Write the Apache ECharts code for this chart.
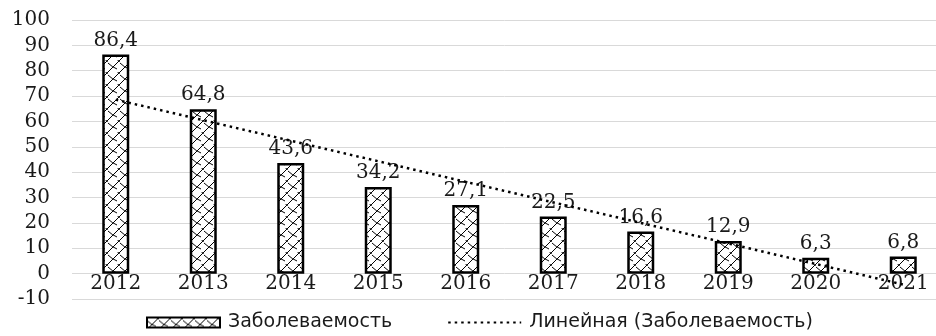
<!DOCTYPE html>
<html>
<head>
<meta charset="utf-8">
<script src="https://cdn.jsdelivr.net/npm/echarts@6/dist/echarts.min.js"></script>
<style>html,body{margin:0;padding:0;background:#fff}#c{width:936px;height:336px}</style>
</head>
<body>
<div id="c"></div>
<script>
const categories = ['2012','2013','2014','2015','2016','2017','2018','2019','2020','2021'];
const incidence = [86.4, 64.8, 43.6, 34.2, 27.1, 22.5, 16.6, 12.9, 6.3, 6.8];
const trendEnds = [68.6, -4.3]; // linear trend line values at first and last year
const yTicks = {min: -10, max: 100, interval: 10};
const seriesNames = ['Заболеваемость', 'Линейная (Заболеваемость)'];

function makePattern() {
  const c = document.createElement('canvas');
  c.width = 12; c.height = 12;
  const g = c.getContext('2d');
  g.fillStyle = '#fff'; g.fillRect(0, 0, 12, 12);
  g.strokeStyle = '#000'; g.lineWidth = 1;
  g.beginPath();
  g.moveTo(0, 12); g.lineTo(12, 0);
  g.moveTo(-6, 6); g.lineTo(6, -6);
  g.moveTo(6, 18); g.lineTo(18, 6);
  g.moveTo(0, 3); g.quadraticCurveTo(4, 7, 9, 9);
  g.moveTo(-6, 9); g.quadraticCurveTo(-2, 13, 3, 15);
  g.moveTo(6, -3); g.quadraticCurveTo(10, 1, 15, 3);
  g.stroke();
  return c;
}
const pattern = makePattern();

const labelFont = {fontFamily: 'DejaVu Serif', fontSize: 20, color: '#1a1a1a'};

const chart = echarts.init(document.getElementById('c'), null, {renderer: 'canvas'});
chart.setOption({
  animation: false,
  backgroundColor: '#fff',
  grid: {left: 72, right: -11, top: 20, bottom: 37, containLabel: false, outerBoundsMode: 'none'},
  legend: {
    top: 313, left: 146, padding: 0,
    itemWidth: 73, itemHeight: 10, itemGap: 55,
    textStyle: {fontFamily: 'DejaVu Sans', fontSize: 19, color: '#1a1a1a', padding: [0, 0, 0, 3]},
    data: [
      {name: seriesNames[0], icon: 'rect'},
      {name: seriesNames[1], itemStyle: {opacity: 0}}
    ]
  },
  xAxis: {
    type: 'category', data: categories,
    axisLine: {show: false, onZero: false},
    axisTick: {show: false},
    axisLabel: Object.assign({margin: -25}, labelFont),
    splitLine: {show: false}
  },
  yAxis: {
    type: 'value', min: yTicks.min, max: yTicks.max, interval: yTicks.interval,
    axisLine: {show: false}, axisTick: {show: false},
    axisLabel: Object.assign({margin: 22}, labelFont),
    splitLine: {lineStyle: {color: '#d9d9d9', width: 1}}
  },
  series: [
    {
      name: seriesNames[0], type: 'bar', data: incidence, barWidth: 27,
      itemStyle: {color: {image: pattern, repeat: 'repeat'}, borderColor: '#000', borderWidth: 2.5},
      label: Object.assign({
        show: true, position: 'top', distance: 4,
        formatter: p => String(p.value).replace('.', ',')
      }, labelFont),
      z: 2
    },
    {
      name: seriesNames[1], type: 'line',
      data: [[0, trendEnds[0]], [categories.length - 1, trendEnds[1]]],
      symbol: 'none',
      lineStyle: {color: '#000', width: 2.5, type: [2.5, 4]},
      itemStyle: {color: '#000'},
      z: 3
    }
  ]
});
</script>
</body>
</html>
